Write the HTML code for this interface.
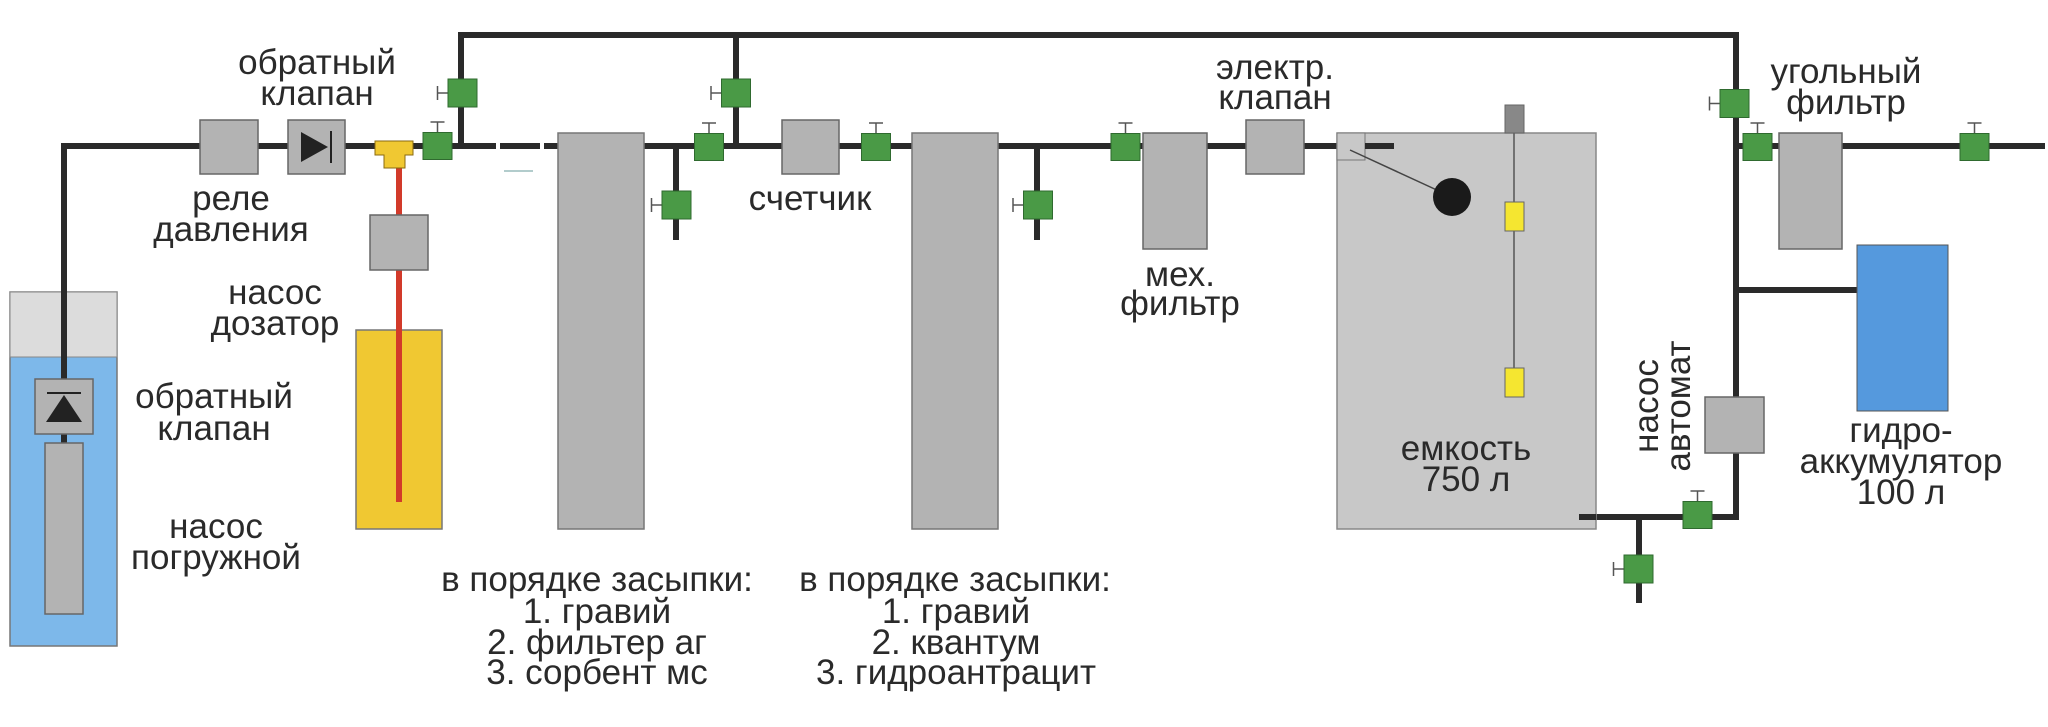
<!DOCTYPE html>
<html><head><meta charset="utf-8"><style>html,body{margin:0;padding:0;background:#fff}svg{display:block}</style></head>
<body>
<svg width="2048" height="727" viewBox="0 0 2048 727" xmlns="http://www.w3.org/2000/svg" font-family="Liberation Sans, sans-serif">
<defs>
<g id="vu"><line x1="0" y1="-13" x2="0" y2="-24" stroke="#555" stroke-width="1.5"/><line x1="-7" y1="-24" x2="7" y2="-24" stroke="#555" stroke-width="1.5"/><rect x="-14.5" y="-13.5" width="29" height="27" fill="#4a9a46" stroke="#2f6a2f" stroke-width="1"/></g>
<g id="vl"><line x1="-14" y1="0" x2="-25" y2="0" stroke="#555" stroke-width="1.5"/><line x1="-25" y1="-7" x2="-25" y2="7" stroke="#555" stroke-width="1.5"/><rect x="-14.5" y="-14" width="29" height="28" fill="#4a9a46" stroke="#2f6a2f" stroke-width="1"/></g>
</defs>
<rect x="10" y="292" width="107" height="354" fill="#7db8ea" stroke="#777" stroke-width="1.5"/>
<rect x="10" y="292" width="107" height="65" fill="#dcdcdc" stroke="#888" stroke-width="1"/>
<g stroke="#2a2a2a" stroke-width="6" fill="none" stroke-linecap="square">
<polyline points="64,380 64,146 375,146"/>
<line x1="64" y1="434" x2="64" y2="444"/>
<line x1="413" y1="146" x2="1394" y2="146"/>
<polyline points="461,146 461,35 1736,35 1736,517 1579,517"/>
<line x1="736" y1="35" x2="736" y2="146"/>
<line x1="676" y1="146" x2="676" y2="237"/>
<line x1="1037" y1="146" x2="1037" y2="237"/>
<line x1="1736" y1="146" x2="2042" y2="146"/>
<line x1="1736" y1="290" x2="1857" y2="290"/>
<line x1="1639" y1="517" x2="1639" y2="600"/>
</g>
<rect x="496" y="142" width="4" height="9" fill="#fff"/><rect x="540" y="142" width="4" height="9" fill="#fff"/>
<line x1="504" y1="171" x2="533" y2="171" stroke="#9bb" stroke-width="1.5"/>
<rect x="35" y="379" width="58" height="55" fill="#b3b3b3" stroke="#666" stroke-width="1.5"/>
<line x1="47" y1="393" x2="81" y2="393" stroke="#222" stroke-width="2"/>
<polygon points="64,395 46,422 82,422" fill="#222"/>
<rect x="45" y="443" width="38" height="171" fill="#b3b3b3" stroke="#666" stroke-width="1.5"/>
<rect x="200" y="120" width="58" height="54" fill="#b3b3b3" stroke="#666" stroke-width="1.5"/>
<rect x="288" y="120" width="57" height="54" fill="#b3b3b3" stroke="#666" stroke-width="1.5"/>
<polygon points="301,132 301,162 328,147" fill="#222"/><line x1="331" y1="131" x2="331" y2="163" stroke="#222" stroke-width="2"/>
<rect x="356" y="330" width="86" height="199" fill="#f0c832" stroke="#777" stroke-width="1.5"/>
<line x1="399" y1="165" x2="399" y2="502" stroke="#d23a2a" stroke-width="6"/>
<rect x="370" y="215" width="58" height="55" fill="#b3b3b3" stroke="#666" stroke-width="1.5"/>
<path d="M375,141 H413 V155 H405 V168 H384 V155 H375 Z" fill="#f0c832" stroke="#8a6a10" stroke-width="1"/>
<rect x="558" y="133" width="86" height="396" fill="#b3b3b3" stroke="#777" stroke-width="1.5"/>
<rect x="912" y="133" width="86" height="396" fill="#b3b3b3" stroke="#777" stroke-width="1.5"/>
<rect x="782" y="120" width="57" height="54" fill="#b3b3b3" stroke="#666" stroke-width="1.5"/>
<rect x="1143" y="133" width="64" height="116" fill="#b3b3b3" stroke="#666" stroke-width="1.5"/>
<rect x="1246" y="120" width="58" height="54" fill="#b3b3b3" stroke="#666" stroke-width="1.5"/>
<rect x="1337" y="133" width="259" height="396" fill="#c8c8c8" stroke="#888" stroke-width="1.5"/>
<rect x="1337" y="133" width="28" height="27" fill="#c8c8c8" stroke="#777" stroke-width="1"/>
<line x1="1365" y1="146" x2="1394" y2="146" stroke="#2a2a2a" stroke-width="6"/>
<line x1="1350" y1="150" x2="1452" y2="197" stroke="#444" stroke-width="1.5"/>
<circle cx="1452" cy="197" r="19" fill="#1a1a1a"/>
<line x1="1514" y1="133" x2="1514" y2="385" stroke="#555" stroke-width="1.5"/>
<rect x="1505" y="105" width="19" height="28" fill="#888" stroke="#666"/>
<rect x="1505" y="202" width="19" height="29" fill="#f5e630" stroke="#666"/>
<rect x="1505" y="368" width="19" height="29" fill="#f5e630" stroke="#666"/>
<line x1="1579" y1="517" x2="1596" y2="517" stroke="#2a2a2a" stroke-width="6"/>
<rect x="1779" y="133" width="63" height="116" fill="#b3b3b3" stroke="#666" stroke-width="1.5"/>
<rect x="1857" y="245" width="91" height="166" fill="#5599dd" stroke="#555" stroke-width="1"/>
<rect x="1705" y="397" width="59" height="56" fill="#b3b3b3" stroke="#666" stroke-width="1.5"/>
<use href="#vu" x="437.5" y="146"/>
<use href="#vl" x="462.5" y="93"/>
<use href="#vl" x="676.5" y="205"/>
<use href="#vu" x="709" y="147"/>
<use href="#vl" x="736" y="93"/>
<use href="#vu" x="876" y="147"/>
<use href="#vl" x="1038" y="205"/>
<use href="#vu" x="1125.5" y="147"/>
<use href="#vl" x="1734.5" y="103.5"/>
<use href="#vu" x="1757.5" y="147"/>
<use href="#vu" x="1974.5" y="147"/>
<use href="#vu" x="1697.5" y="515"/>
<use href="#vl" x="1638.5" y="569"/>
<g font-size="35" fill="#2a2a2a" text-anchor="middle">
<text x="317" y="74">обратный</text><text x="317" y="105">клапан</text>
<text x="231" y="210">реле</text><text x="231" y="241">давления</text>
<text x="275" y="304">насос</text><text x="275" y="335">дозатор</text>
<text x="214" y="408">обратный</text><text x="214" y="440">клапан</text>
<text x="216" y="538">насос</text><text x="216" y="569">погружной</text>
<text x="597" y="591">в порядке засыпки:</text><text x="597" y="623">1. гравий</text><text x="597" y="654">2. фильтер аг</text><text x="597" y="684">3. сорбент мс</text>
<text x="955" y="591">в порядке засыпки:</text><text x="956" y="623">1. гравий</text><text x="956" y="654">2. квантум</text><text x="956" y="684">3. гидроантрацит</text>
<text x="810" y="210">счетчик</text>
<text x="1180" y="286">мех.</text><text x="1180" y="315">фильтр</text>
<text x="1275" y="79">электр.</text><text x="1275" y="109">клапан</text>
<text x="1466" y="460">емкость</text><text x="1466" y="491">750 л</text>
<text x="1846" y="83">угольный</text><text x="1846" y="114">фильтр</text>
<text x="1901" y="442">гидро-</text><text x="1901" y="473">аккумулятор</text><text x="1901" y="504">100 л</text>
<text transform="translate(1658,406) rotate(-90)">насос</text>
<text transform="translate(1690,406) rotate(-90)">автомат</text>
</g>
</svg>
</body></html>
